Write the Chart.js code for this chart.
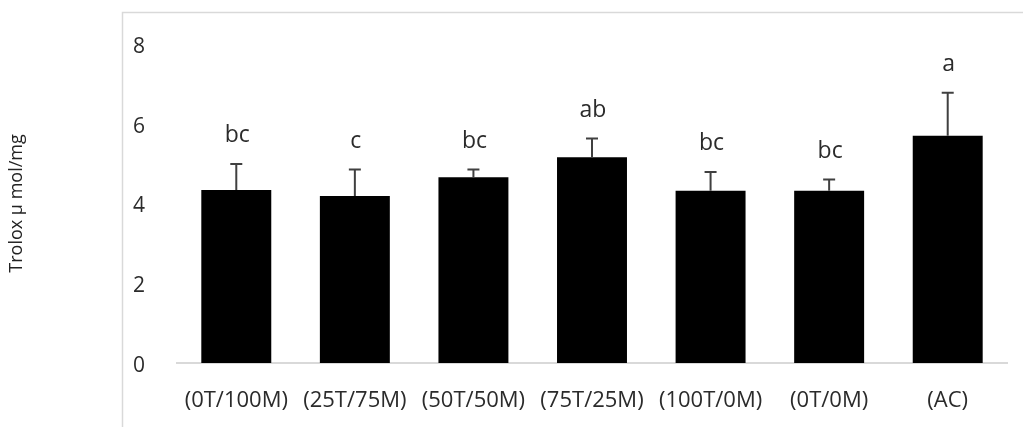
<!DOCTYPE html>
<html>
<head>
<meta charset="utf-8">
<script src="https://cdn.jsdelivr.net/npm/chart.js@4/dist/chart.umd.min.js"></script>
<style>
  html, body { margin: 0; padding: 0; background: #fff; }
  #wrap { position: relative; width: 1023px; height: 427px; }
</style>
</head>
<body>
<div id="wrap"><canvas id="c" width="1023" height="427"></canvas></div>
<script>
// Treatment groups and measured antioxidant capacity (mean, standard deviation)
const categories = ['(0T/100M)', '(25T/75M)', '(50T/50M)', '(75T/25M)', '(100T/0M)', '(0T/0M)', '(AC)'];
const means = [4.34, 4.19, 4.66, 5.16, 4.32, 4.32, 5.70];
const errors = [0.65, 0.66, 0.19, 0.47, 0.47, 0.28, 1.08];
const letters = ['bc', 'c', 'bc', 'ab', 'bc', 'bc', 'a'];
const yTicks = [0, 2, 4, 6, 8];

const FONT = '"Open Sans", "Noto Sans", sans-serif';
const TEXT = '#2b2b2b';

// Light frame around the plot region
const framePlugin = {
  id: 'frame',
  beforeDraw(chart) {
    const ctx = chart.ctx;
    ctx.save();
    ctx.strokeStyle = '#d9d9d9';
    ctx.lineWidth = 1.5;
    ctx.strokeRect(122.5, 12.5, 1100, 500);
    ctx.restore();
  }
};

// Upward error bars and significance letters above each bar
const errorPlugin = {
  id: 'errorBars',
  afterDatasetsDraw(chart) {
    const ctx = chart.ctx;
    const meta = chart.getDatasetMeta(0);
    const y = chart.scales.y;
    ctx.save();
    meta.data.forEach((bar, i) => {
      const x = bar.x;
      const yTop = y.getPixelForValue(means[i] + errors[i]);
      const yBase = y.getPixelForValue(means[i]);
      ctx.strokeStyle = '#404040';
      ctx.lineWidth = 2;
      ctx.beginPath();
      ctx.moveTo(x, yBase);
      ctx.lineTo(x, yTop);
      ctx.moveTo(x - 6, yTop);
      ctx.lineTo(x + 6, yTop);
      ctx.stroke();
      ctx.fillStyle = TEXT;
      ctx.font = '23px ' + FONT;
      ctx.textAlign = 'center';
      ctx.textBaseline = 'alphabetic';
      ctx.fillText(letters[i], x + 1, yTop - 22);
    });
    ctx.restore();
  }
};

new Chart(document.getElementById('c'), {
  type: 'bar',
  data: {
    labels: categories,
    datasets: [{
      data: means,
      backgroundColor: '#000000',
      borderWidth: 0,
      categoryPercentage: 1.0,
      barPercentage: 0.59
    }]
  },
  options: {
    responsive: false,
    animation: false,
    devicePixelRatio: 1,
    layout: { padding: { top: 44, right: 16, left: 0, bottom: 0 } },
    plugins: { legend: { display: false }, tooltip: { enabled: false } },
    scales: {
      x: {
        grid: { display: false },
        border: { display: true, color: '#d9d9d9', width: 2 },
        ticks: { color: TEXT, font: { family: FONT, size: 22 }, padding: 17, maxRotation: 0, autoSkip: false },
        afterFit(scale) { scale.height = 64; }
      },
      y: {
        min: 0,
        max: 8,
        afterBuildTicks(scale) { scale.ticks = yTicks.map(v => ({ value: v })); },
        grid: { display: false },
        border: { display: false },
        ticks: { color: TEXT, font: { family: FONT, size: 21 }, padding: 24, labelOffset: 3 },
        title: {
          display: true,
          text: 'Trolox µ mol/mg',
          color: '#222',
          font: { family: FONT, size: 18 },
          padding: { top: 6, bottom: 0 }
        },
        afterFit(scale) { scale.width = 177; }
      }
    }
  },
  plugins: [framePlugin, errorPlugin]
});
</script>
</body>
</html>
